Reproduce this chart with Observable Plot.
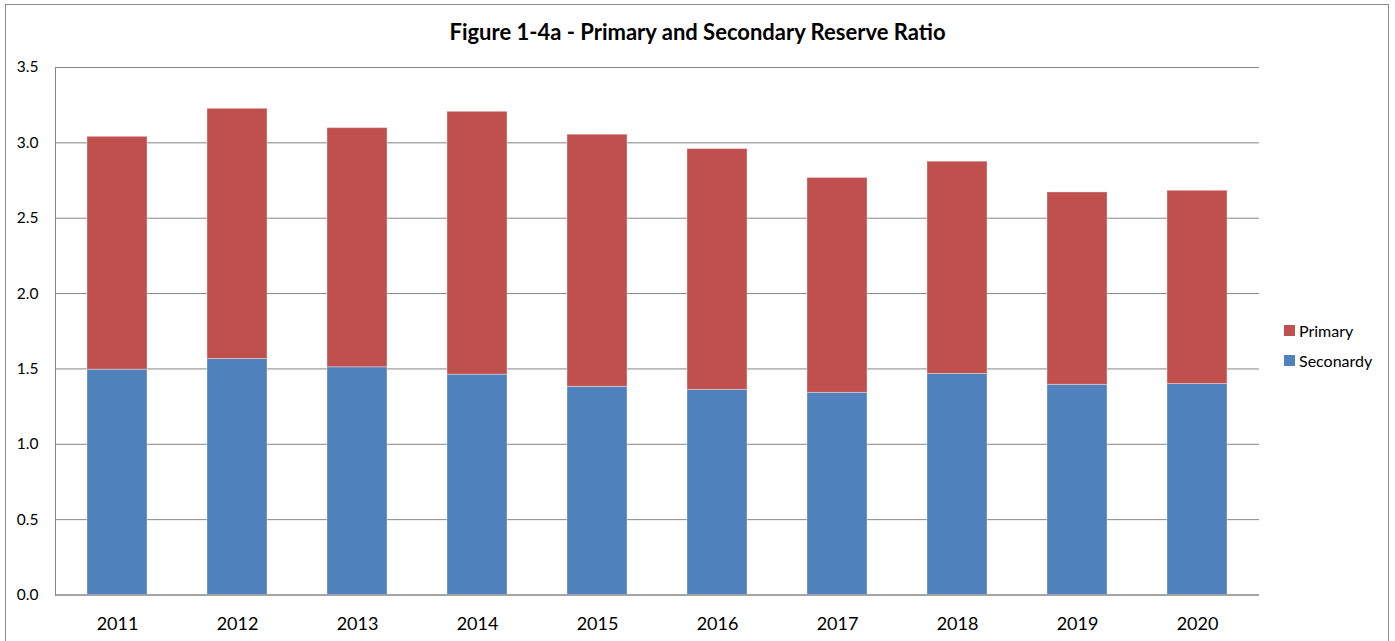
<!DOCTYPE html>
<html>
<head>
<meta charset="utf-8">
<script src="https://cdn.jsdelivr.net/npm/d3@7"></script>
<script src="https://cdn.jsdelivr.net/npm/@observablehq/plot@0.6"></script>
<style>
  html, body { margin: 0; padding: 0; background: #fff; overflow: hidden; }
  body { width: 1395px; height: 641px; position: relative; font-family: Lato, "Open Sans", sans-serif; }
  #frame { position: absolute; left: 5px; top: 4px; width: 1384px; height: 700px; border: 1px solid #8c8c8c; box-sizing: border-box; }
  #title { position: absolute; left: 0; top: 19px; width: 1395px; text-align: center; font-weight: bold; font-size: 22px; color: #000; line-height: 26px; }
  #chart { position: absolute; left: 0; top: 50px; }
  #legend { position: absolute; left: 1284px; top: 315px; font-size: 16px; color: #000; }
  .item { display: flex; align-items: center; height: 30px; }
  .sw { width: 11px; height: 11px; margin-right: 4px; }
</style>
</head>
<body>
<div id="frame"></div>
<div id="title">Figure 1-4a - Primary and Secondary Reserve Ratio</div>
<div id="chart"></div>
<div id="legend"></div>
<script>
const years = ["2011","2012","2013","2014","2015","2016","2017","2018","2019","2020"];
const secondary = [1.495, 1.566, 1.511, 1.462, 1.381, 1.361, 1.341, 1.467, 1.394, 1.400];
const primary = [1.545, 1.660, 1.587, 1.744, 1.673, 1.598, 1.426, 1.408, 1.277, 1.282];
const seriesNames = ["Seconardy", "Primary"];
const seriesColors = ["#4F81BD", "#C0504D"];
const yTicks = [0, 0.5, 1.0, 1.5, 2.0, 2.5, 3.0, 3.5];

const data = [];
years.forEach((y, i) => {
  data.push({year: y, series: seriesNames[0], value: secondary[i]});
  data.push({year: y, series: seriesNames[1], value: primary[i]});
});

const chart = Plot.plot({
  width: 1395,
  height: 591,
  marginLeft: 55,
  marginRight: 136,
  marginTop: 17,
  marginBottom: 46.5,
  style: {fontFamily: "Lato, 'Open Sans', sans-serif", background: "transparent", overflow: "visible"},
  x: {domain: years, paddingInner: 0.5, paddingOuter: 0.25, label: null},
  y: {domain: [0, 3.5], label: null},
  color: {domain: seriesNames, range: seriesColors},
  marks: [
    Plot.gridY(yTicks, {stroke: "#868686", strokeOpacity: 1, strokeWidth: 1}),
    Plot.barY(data, {x: "year", y: "value", fill: "series", order: seriesNames, stroke: "#ffffff", strokeOpacity: 0.35, strokeWidth: 1}),
    Plot.frame({anchor: "left", stroke: "#868686"}),
    Plot.ruleY([0], {stroke: "#868686"}),
    Plot.axisX({tickSize: 0, tickPadding: 22, fontSize: 18, fill: "#000"}),
    Plot.axisY({ticks: yTicks, tickFormat: d3.format(".1f"), tickSize: 0, tickPadding: 17, fontSize: 15.5, fill: "#000"})
  ]
});
document.getElementById("chart").appendChild(chart);

const legend = document.getElementById("legend");
[1, 0].forEach(i => {
  const it = document.createElement("div");
  it.className = "item";
  it.innerHTML = `<div class="sw" style="background:${seriesColors[i]}"></div><span>${seriesNames[i]}</span>`;
  legend.appendChild(it);
});
</script>
</body>
</html>
